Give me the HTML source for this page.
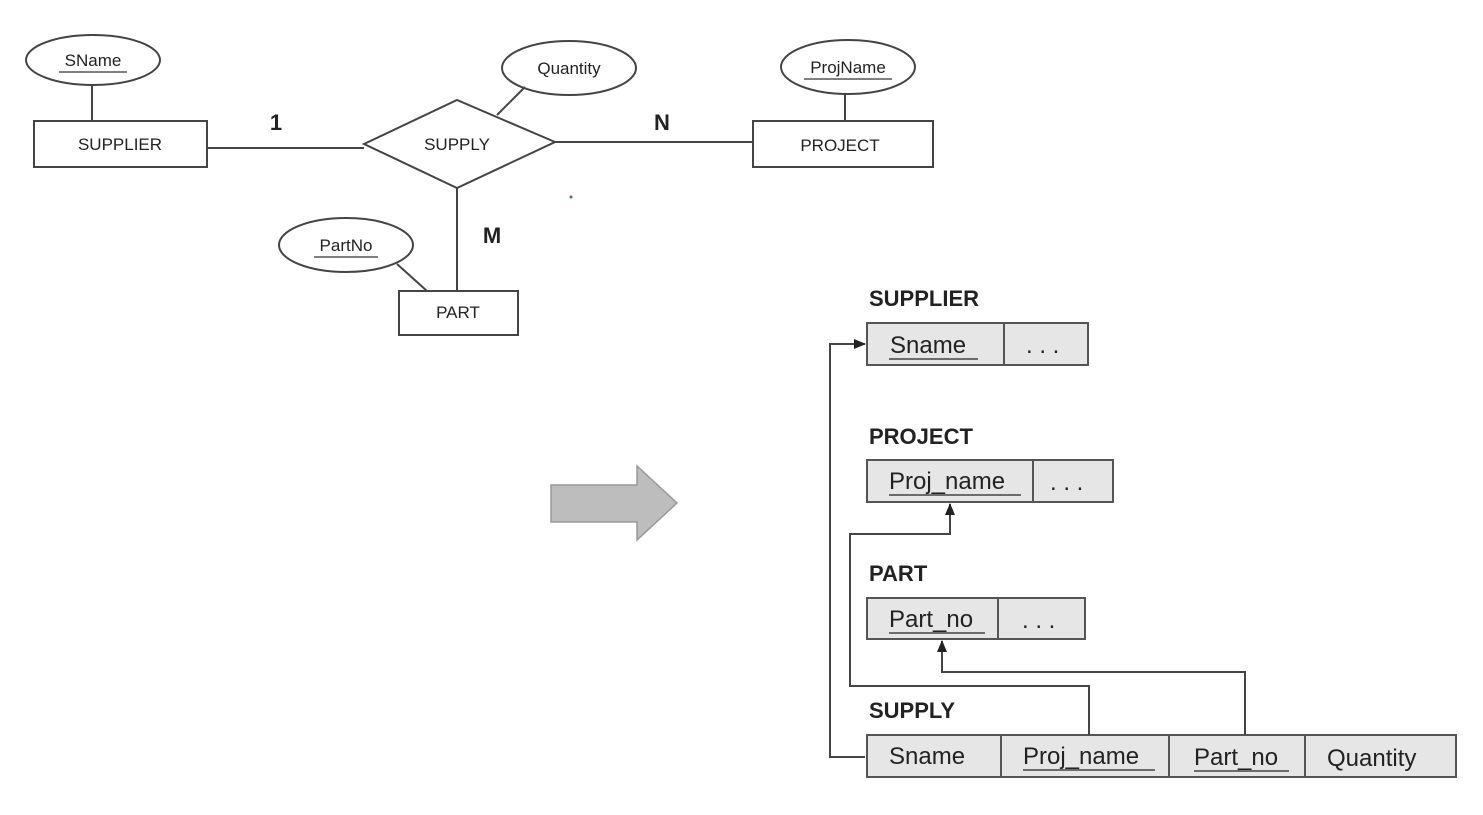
<!DOCTYPE html>
<html><head><meta charset="utf-8"><style>
body{margin:0;background:#fff;width:1483px;height:810px;overflow:hidden}
svg text{font-family:"Liberation Sans",Arial,sans-serif;fill:#222}
</style></head><body>
<svg width="1483" height="810" viewBox="0 0 1483 810" xmlns="http://www.w3.org/2000/svg">
<defs><marker id="ah" markerWidth="12" markerHeight="10" refX="11" refY="5" orient="auto" markerUnits="userSpaceOnUse"><path d="M0,0 L12,5 L0,10 z" fill="#222"/></marker></defs>
<g stroke="#444" stroke-width="2" fill="none">
<ellipse cx="93" cy="60" rx="67" ry="25" fill="#fff"/>
<line x1="92" y1="85" x2="92" y2="121"/>
<rect x="34" y="121" width="173" height="46" fill="#fff"/>
<line x1="207" y1="148" x2="364" y2="148"/>
<polygon points="364,144 457,100 555,142 457,188" fill="#fff"/>
<ellipse cx="569" cy="68" rx="67" ry="27" fill="#fff"/>
<line x1="525" y1="87" x2="497" y2="115"/>
<ellipse cx="848" cy="67" rx="67" ry="27" fill="#fff"/>
<line x1="845" y1="94" x2="845" y2="121"/>
<rect x="753" y="121" width="180" height="46" fill="#fff"/>
<line x1="555" y1="142" x2="753" y2="142"/>
<line x1="457" y1="188" x2="457" y2="291"/>
<ellipse cx="346" cy="245" rx="67" ry="27" fill="#fff"/>
<line x1="397" y1="264" x2="427" y2="291"/>
<rect x="399" y="291" width="119" height="44" fill="#fff"/>
</g>
<g font-size="17" text-anchor="middle">
<text x="93" y="66">SName</text>
<text x="120" y="150">SUPPLIER</text>
<text x="457" y="150">SUPPLY</text>
<text x="569" y="74">Quantity</text>
<text x="848" y="73">ProjName</text>
<text x="840" y="151">PROJECT</text>
<text x="346" y="251">PartNo</text>
<text x="458" y="318">PART</text>
</g>
<g stroke="#555" stroke-width="1.5">
<line x1="59" y1="72" x2="127" y2="72"/><line x1="804" y1="79" x2="892" y2="79"/><line x1="314" y1="257" x2="378" y2="257"/>
</g>
<g font-size="22" font-weight="bold" text-anchor="middle">
<text x="276" y="130">1</text><text x="662" y="130">N</text><text x="492" y="243">M</text>
</g>
<circle cx="571" cy="197" r="1.5" fill="#3a6ea5"/>
<polygon points="551,485 637,485 637,466 677,503 637,540 637,522 551,522" fill="#bdbdbd" stroke="#9a9a9a" stroke-width="1.5"/>
<g font-size="22" font-weight="bold">
<text x="869" y="306">SUPPLIER</text><text x="869" y="444">PROJECT</text><text x="869" y="581">PART</text><text x="869" y="718">SUPPLY</text>
</g>
<g fill="#e6e6e6" stroke="#555" stroke-width="2">
<rect x="867" y="323" width="221" height="42"/><line x1="1004" y1="323" x2="1004" y2="365"/>
<rect x="867" y="460" width="246" height="42"/><line x1="1033" y1="460" x2="1033" y2="502"/>
<rect x="867" y="598" width="218" height="41"/><line x1="998" y1="598" x2="998" y2="639"/>
<rect x="867" y="735" width="589" height="42"/><line x1="1001" y1="735" x2="1001" y2="777"/><line x1="1169" y1="735" x2="1169" y2="777"/><line x1="1305" y1="735" x2="1305" y2="777"/>
</g>
<g font-size="24">
<text x="890" y="353">Sname</text><text x="1026" y="353">. . .</text>
<text x="889" y="489">Proj_name</text><text x="1050" y="490">. . .</text>
<text x="889" y="627">Part_no</text><text x="1022" y="628">. . .</text>
<text x="889" y="764">Sname</text><text x="1023" y="764">Proj_name</text><text x="1194" y="765">Part_no</text><text x="1327" y="766">Quantity</text>
</g>
<g stroke="#444" stroke-width="1.5">
<line x1="889" y1="359" x2="978" y2="359"/><line x1="889" y1="495" x2="1021" y2="495"/><line x1="889" y1="633" x2="985" y2="633"/>
<line x1="1023" y1="770" x2="1155" y2="770"/><line x1="1194" y1="771" x2="1289" y2="771"/>
</g>
<g stroke="#444" stroke-width="2" fill="none">
<polyline points="865,757 830,757 830,344 865,344" marker-end="url(#ah)"/>
<polyline points="1089,735 1089,686 850,686 850,534 950,534 950,504" marker-end="url(#ah)"/>
<polyline points="1245,735 1245,672 942,672 942,641" marker-end="url(#ah)"/>
</g>
</svg>
</body></html>
